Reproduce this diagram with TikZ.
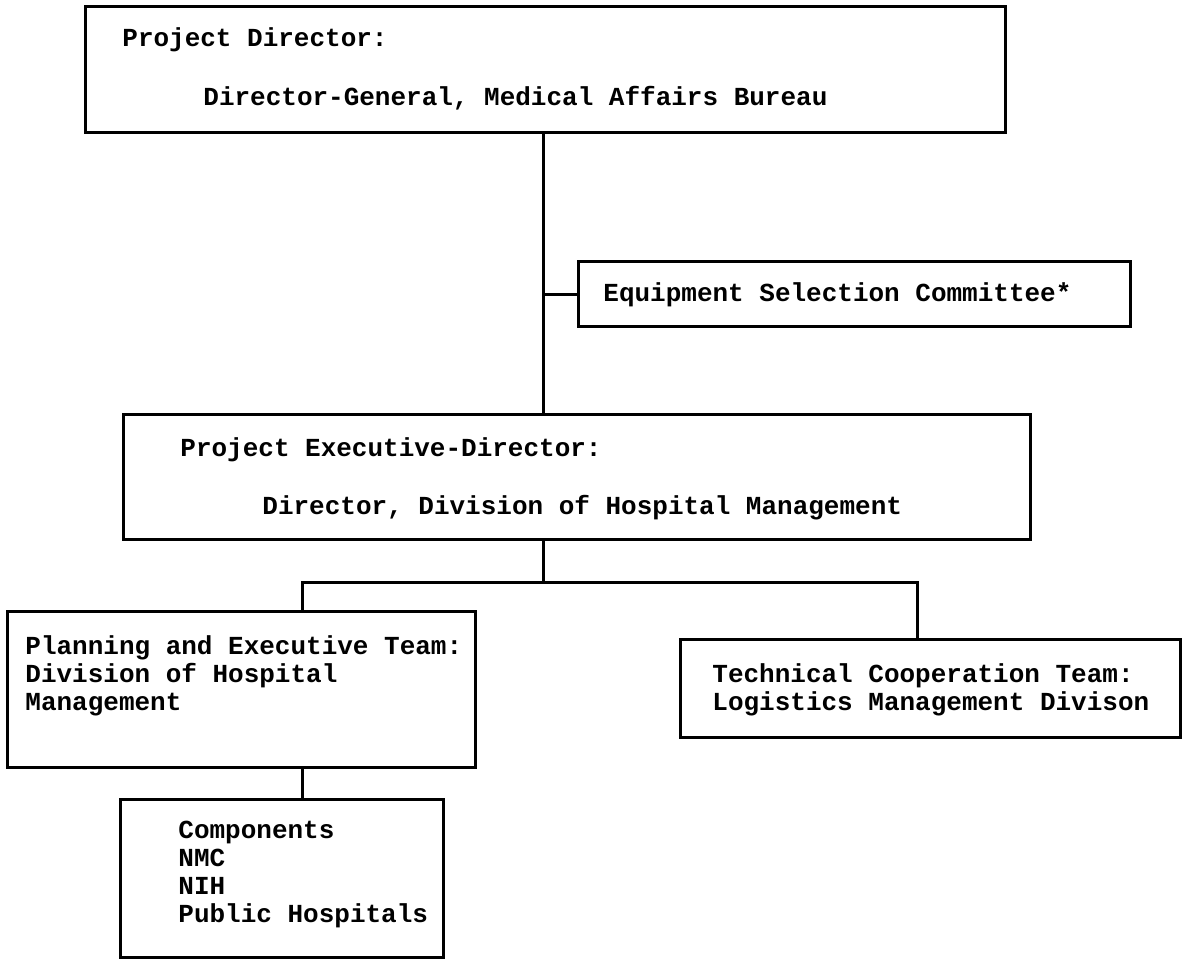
\documentclass[tikz,border=0pt]{standalone}
\usepackage{fontspec}
\setmonofont{Liberation Mono}
\begin{document}
\begin{tikzpicture}[x=0.5pt,y=-0.5pt,
  box/.style={draw, line width=1.5pt, inner sep=0pt},
  lbl/.style={anchor=west, inner sep=0pt, font=\ttfamily\bfseries\fontsize{13}{14}\selectfont, align=left},
  wire/.style={line width=1.5pt}]
\useasboundingbox (0,0) rectangle (1190,961);

% boxes
\node[box, minimum width=460pt, minimum height=63pt] (pd) at (545,70) {};
\node[box, minimum width=276pt, minimum height=32.5pt] (esc) at (854,294.5) {};
\node[box, minimum width=453.5pt, minimum height=62.5pt] (ped) at (576.5,477.5) {};
\node[box, minimum width=234pt, minimum height=78pt] (pet) at (241,690) {};
\node[box, minimum width=250pt, minimum height=49pt] (tct) at (930,689) {};
\node[box, minimum width=161.5pt, minimum height=79pt] (cmp) at (281.5,879) {};

% texts
\node[lbl] (pdt1) at (122,40) {Project Director:};
\node[lbl] (pdt2) at (203,98) {Director-General, Medical Affairs Bureau};
\node[lbl] (esct) at (603,295) {Equipment Selection Committee*};
\node[lbl] (pedt1) at (180,450) {Project Executive-Director:};
\node[lbl] (pedt2) at (262,508) {Director, Division of Hospital Management};
\node[lbl] (pett) at (25,676) {Planning and Executive Team:\\Division of Hospital\\Management};
\node[lbl] (tctt) at (712,690) {Technical Cooperation Team:\\Logistics Management Divison};
\node[lbl] (cmpt) at (178,875) {Components\\NMC\\NIH\\Public Hospitals};

% connectors
\draw[wire] (543,0 |- pd.south) -- (543,0 |- ped.north);
\draw[wire] (543,0 |- esc.west) -- (esc.west);
\draw[wire] (543,0 |- ped.south) -- (543,583);
\draw[wire] (302,0 |- pet.north) -- (302,583) -- (917,583) -- (917,0 |- tct.north);
\draw[wire] (302,0 |- pet.south) -- (302,0 |- cmp.north);
\end{tikzpicture}
\end{document}
